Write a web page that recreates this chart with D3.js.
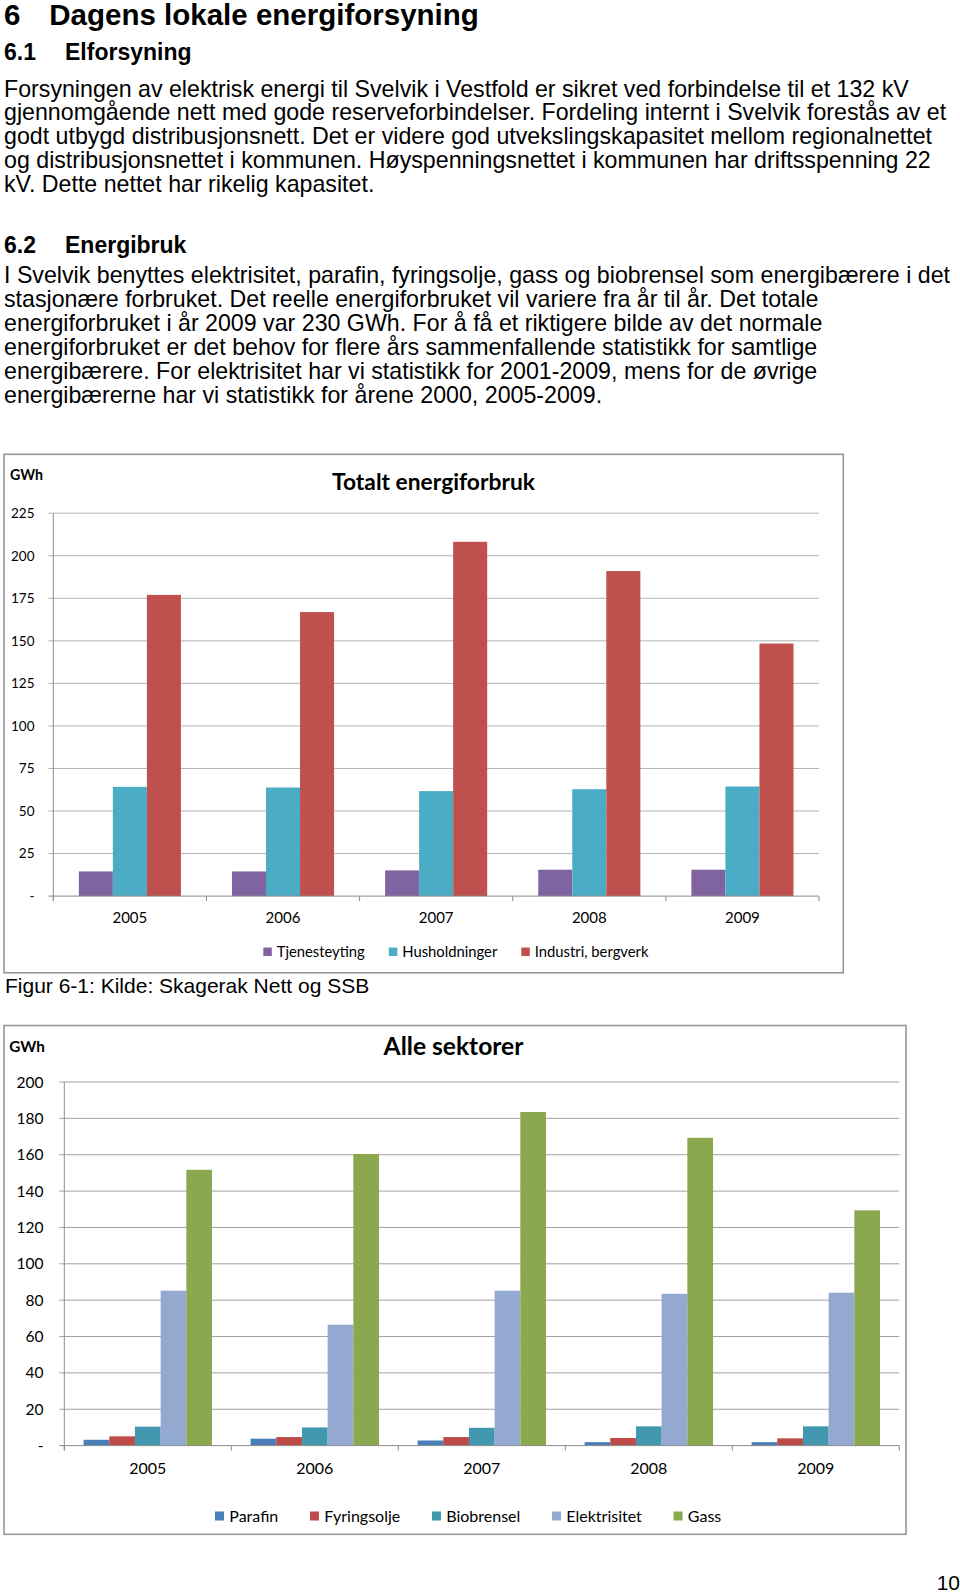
<!DOCTYPE html>
<html>
<head>
<meta charset="utf-8">
<script src="https://cdn.jsdelivr.net/npm/d3@7"></script>
<style>
  html, body { margin: 0; padding: 0; background: #fff; }
  svg { display: block; }
  .body { font-family: "Liberation Sans", Arial, sans-serif; fill: #000; }
  .chart { font-family: Lato, "Open Sans", sans-serif; fill: #000; }
</style>
</head>
<body>
<svg id="page" width="960" height="1592"></svg>
<script>
// ---------- DATA ----------
const years = ["2005", "2006", "2007", "2008", "2009"];

// Chart 1: Totalt energiforbruk (GWh)
const sectorKeys = ["Tjenesteyting", "Husholdninger", "Industri, bergverk"];
const tjenesteyting = [14.5, 14.5, 15.1, 15.5, 15.5];
const husholdninger = [64.2, 63.8, 61.7, 62.8, 64.4];
const industri      = [177.0, 166.9, 208.2, 191.0, 148.4];
const ticks1 = [0, 25, 50, 75, 100, 125, 150, 175, 200, 225];

// Chart 2: Alle sektorer (GWh)
const carrierKeys = ["Parafin", "Fyringsolje", "Biobrensel", "Elektrisitet", "Gass"];
const parafin      = [3.2, 3.8, 2.8, 1.9, 1.9];
const fyringsolje  = [5.1, 4.7, 4.7, 4.2, 4.0];
const biobrensel   = [10.4, 10.0, 9.8, 10.6, 10.6];
const elektrisitet = [85.2, 66.5, 85.2, 83.5, 84.1];
const gass         = [151.7, 160.4, 183.5, 169.3, 129.4];
const ticks2 = [0, 20, 40, 60, 80, 100, 120, 140, 160, 180, 200];

// Text
const heading1 = ["6", "Dagens lokale energiforsyning"];
const heading2 = ["6.1", "Elforsyning"];
const para1 = [
  "Forsyningen av elektrisk energi til Svelvik i Vestfold er sikret ved forbindelse til et 132 kV",
  "gjennomgående nett med gode reserveforbindelser. Fordeling internt i Svelvik forestås av et",
  "godt utbygd distribusjonsnett. Det er videre god utvekslingskapasitet mellom regionalnettet",
  "og distribusjonsnettet i kommunen. Høyspenningsnettet i kommunen har driftsspenning 22",
  "kV. Dette nettet har rikelig kapasitet."
];
const heading3 = ["6.2", "Energibruk"];
const para2 = [
  "I Svelvik benyttes elektrisitet, parafin, fyringsolje, gass og biobrensel som energibærere i det",
  "stasjonære forbruket. Det reelle energiforbruket vil variere fra år til år. Det totale",
  "energiforbruket i år 2009 var 230 GWh. For å få et riktigere bilde av det normale",
  "energiforbruket er det behov for flere års sammenfallende statistikk for samtlige",
  "energibærere. For elektrisitet har vi statistikk for 2001-2009, mens for de øvrige",
  "energibærerne har vi statistikk for årene 2000, 2005-2009."
];
const caption = "Figur 6-1: Kilde: Skagerak Nett og SSB";
const pageNumber = "10";

// ---------- DRAW ----------
const svg = d3.select("#page");
svg.append("rect").attr("width", 960).attr("height", 1592).attr("fill", "#fff");

const txt = svg.append("g").attr("class", "body");
// headings
txt.append("text").attr("x", 4).attr("y", 25).attr("font-size", 29.5).attr("font-weight", "bold").text(heading1[0]);
txt.append("text").attr("x", 49.3).attr("y", 25).attr("font-size", 29.5).attr("font-weight", "bold").text(heading1[1]);
txt.append("text").attr("x", 4).attr("y", 60).attr("font-size", 23).attr("font-weight", "bold").text(heading2[0]);
txt.append("text").attr("x", 65).attr("y", 60).attr("font-size", 23).attr("font-weight", "bold").text(heading2[1]);
para1.forEach((l, i) => {
  txt.append("text").attr("x", 4).attr("y", 96.7 + i * 23.75).attr("font-size", 23.2).text(l);
});
txt.append("text").attr("x", 4).attr("y", 253.3).attr("font-size", 23).attr("font-weight", "bold").text(heading3[0]);
txt.append("text").attr("x", 65).attr("y", 253.3).attr("font-size", 23).attr("font-weight", "bold").text(heading3[1]);
para2.forEach((l, i) => {
  txt.append("text").attr("x", 4).attr("y", 283.3 + i * 23.9).attr("font-size", 23.2).text(l);
});
txt.append("text").attr("x", 5).attr("y", 993.3).attr("font-size", 21).text(caption);
txt.append("text").attr("x", 936.7).attr("y", 1589.5).attr("font-size", 21).text(pageNumber);

function drawChart(cfg) {
  const g = svg.append("g").attr("class", "chart");
  // frame
  g.append("rect")
    .attr("x", cfg.frame[0]).attr("y", cfg.frame[1])
    .attr("width", cfg.frame[2] - cfg.frame[0]).attr("height", cfg.frame[3] - cfg.frame[1])
    .attr("fill", "#fff").attr("stroke", "#979797").attr("stroke-width", 1.6);

  const x0 = d3.scaleBand().domain(years).range([cfg.plotL, cfg.plotR]).paddingInner(0).paddingOuter(0);
  const x1 = d3.scaleBand().domain(cfg.keys).range([0, x0.bandwidth()]).paddingInner(0).paddingOuter(0.75);
  const y = d3.scaleLinear().domain([0, cfg.max]).range([cfg.y0, cfg.yTop]);

  // gridlines + y tick marks
  g.append("g").selectAll("line").data(cfg.ticks.filter(t => t > 0)).join("line")
    .attr("x1", cfg.plotL - 5).attr("x2", cfg.plotR)
    .attr("y1", d => y(d)).attr("y2", d => y(d))
    .attr("stroke", cfg.gridColor).attr("stroke-width", 1);

  // y labels
  g.append("g").selectAll("text").data(cfg.ticks).join("text")
    .attr("x", cfg.labelX).attr("y", d => y(d))
    .attr("dy", "0.36em")
    .attr("text-anchor", "end")
    .attr("font-size", cfg.tickFont)
    .text(d => d === 0 ? "-" : d);

  // bars
  const groups = g.append("g").selectAll("g").data(years).join("g")
    .attr("transform", d => `translate(${x0(d)},0)`);
  groups.selectAll("rect")
    .data((yr, i) => cfg.keys.map((k, j) => ({ key: k, value: cfg.series[j][i], color: cfg.colors[j] })))
    .join("rect")
    .attr("x", d => x1(d.key))
    .attr("width", x1.bandwidth())
    .attr("y", d => y(d.value))
    .attr("height", d => y(0) - y(d.value))
    .attr("fill", d => d.color);

  // axes
  g.append("line").attr("x1", cfg.plotL - 5).attr("x2", cfg.plotR)
    .attr("y1", y(0)).attr("y2", y(0)).attr("stroke", "#8c8c8c").attr("stroke-width", 1);
  g.append("line").attr("x1", cfg.plotL).attr("x2", cfg.plotL)
    .attr("y1", y(cfg.max)).attr("y2", y(0) + 5).attr("stroke", "#8c8c8c").attr("stroke-width", 1);
  const bounds = years.map(d => x0(d)).concat([cfg.plotR]);
  g.append("g").selectAll("line").data(bounds).join("line")
    .attr("x1", d => d).attr("x2", d => d)
    .attr("y1", y(0)).attr("y2", y(0) + 5)
    .attr("stroke", "#8c8c8c").attr("stroke-width", 1);

  // x labels
  g.append("g").selectAll("text").data(years).join("text")
    .attr("x", d => x0(d) + x0.bandwidth() / 2)
    .attr("y", cfg.xLabelY).attr("dy", "0.36em")
    .attr("text-anchor", "middle").attr("font-size", cfg.xFont)
    .text(d => d);

  // title + unit
  g.append("text").attr("x", cfg.titleX).attr("y", cfg.titleY)
    .attr("text-anchor", "middle").attr("font-size", cfg.titleFont).attr("font-weight", "bold")
    .text(cfg.title);
  g.append("text").attr("x", cfg.unitX).attr("y", cfg.unitY).attr("dy", "0.36em")
    .attr("font-size", cfg.unitFont).attr("font-weight", "bold").text("GWh");

  // legend (sequential layout)
  let lx = cfg.legendX;
  const lg = g.append("g");
  cfg.keys.forEach((k, j) => {
    lg.append("rect").attr("x", lx).attr("y", cfg.legendY - cfg.sq / 2)
      .attr("width", cfg.sq).attr("height", cfg.sq).attr("fill", cfg.colors[j]);
    const t = lg.append("text").attr("x", lx + cfg.sqGap).attr("y", cfg.legendY).attr("dy", "0.36em")
      .attr("font-size", cfg.legendFont).text(k);
    lx = lx + cfg.sqGap + t.node().getComputedTextLength() + cfg.itemGap;
  });
}

drawChart({
  frame: [4, 454.3, 843.3, 972.8],
  plotL: 53.3, plotR: 819, y0: 896.1, yTop: 513.2, max: 225,
  keys: sectorKeys, series: [tjenesteyting, husholdninger, industri],
  colors: ["#8064A2", "#4BACC6", "#C0504D"],
  ticks: ticks1, gridColor: "#b4b4b4",
  labelX: 34.5, tickFont: 13.5, xFont: 15, xLabelY: 917.9,
  title: "Totalt energiforbruk", titleX: 433.5, titleY: 489.5, titleFont: 22.8,
  unitX: 10, unitY: 474.6, unitFont: 14.2,
  legendX: 263.3, legendY: 951.8, sq: 8.5, sqGap: 13.4, itemGap: 24, legendFont: 14.8
});

drawChart({
  frame: [4, 1025.5, 906, 1534.3],
  plotL: 64.3, plotR: 899.3, y0: 1445.6, yTop: 1082, max: 200,
  keys: carrierKeys, series: [parafin, fyringsolje, biobrensel, elektrisitet, gass],
  colors: ["#4A7EBB", "#BE4B48", "#4198AF", "#93A9CF", "#8BA84E"],
  ticks: ticks2, gridColor: "#a2a2a2",
  labelX: 43.5, tickFont: 15.5, xFont: 16, xLabelY: 1468,
  title: "Alle sektorer", titleX: 453.5, titleY: 1054.5, titleFont: 24.6,
  unitX: 9.3, unitY: 1046.8, unitFont: 15.3,
  legendX: 215, legendY: 1516, sq: 9, sqGap: 14.3, itemGap: 31.7, legendFont: 16
});
</script>
</body>
</html>
